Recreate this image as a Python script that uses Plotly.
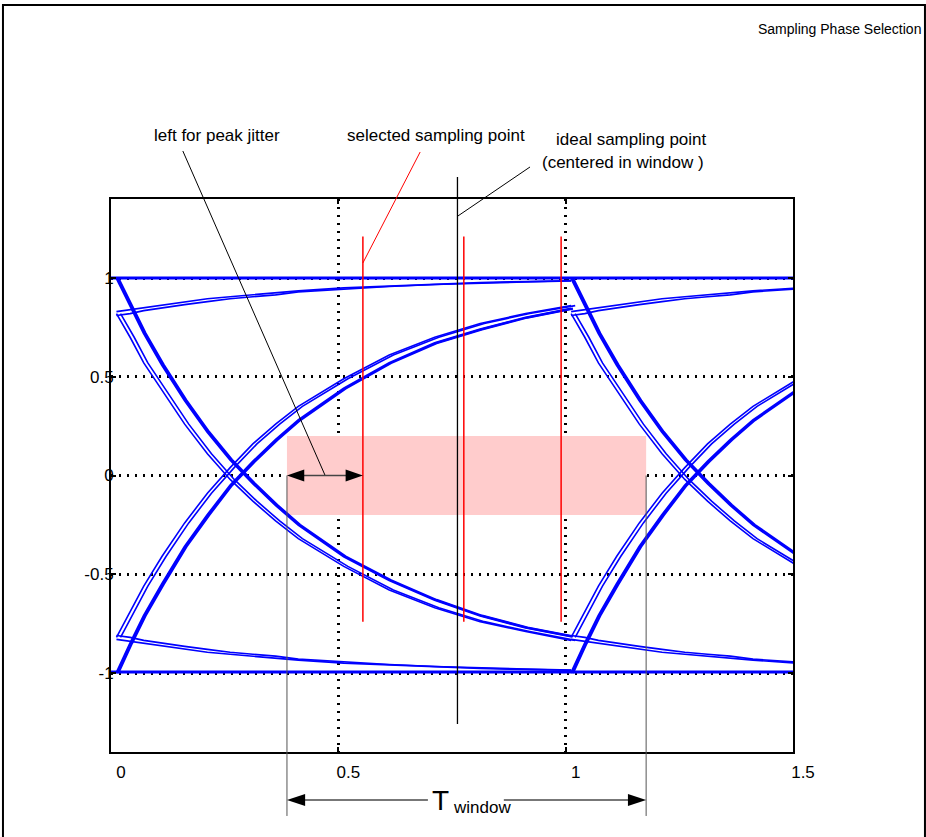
import plotly.graph_objects as go

# ---------------- data ----------------
# time since the start of a bit transition (UI)
t_grid = [0.0, 0.03, 0.06, 0.10, 0.15, 0.20, 0.25, 0.30, 0.35, 0.40, 0.50, 0.60, 0.70, 0.80, 0.90, 1.0]
ui_starts = [0.012, 1.012]          # where each unit interval's transition starts
ui_lengths = [1.0, 0.5]             # visible part of each unit interval

fall_from_high = [1.00, 0.86, 0.72, 0.56, 0.38, 0.22, 0.08, -0.04, -0.15, -0.25, -0.41, -0.53, -0.63, -0.71, -0.77, -0.815]
fall_from_mid = [0.82, 0.70, 0.57, 0.43, 0.26, 0.11, -0.02, -0.13, -0.23, -0.32, -0.46, -0.58, -0.67, -0.74, -0.79, -0.835]
rise_from_low = [-1.00, -0.85, -0.71, -0.55, -0.36, -0.20, -0.05, 0.07, 0.18, 0.28, 0.44, 0.57, 0.67, 0.74, 0.80, 0.845]
rise_from_mid = [-0.82, -0.69, -0.56, -0.41, -0.24, -0.09, 0.04, 0.16, 0.26, 0.35, 0.49, 0.61, 0.70, 0.77, 0.82, 0.86]
settle_high_a = [0.83, 0.84, 0.85, 0.865, 0.88, 0.895, 0.905, 0.915, 0.925, 0.935, 0.95, 0.96, 0.97, 0.977, 0.982, 0.986]
settle_high_b = [0.81, 0.82, 0.835, 0.85, 0.865, 0.88, 0.895, 0.905, 0.915, 0.93, 0.945, 0.957, 0.967, 0.975, 0.98, 0.985]
settle_low_a = [-0.83, -0.84, -0.85, -0.865, -0.88, -0.895, -0.905, -0.915, -0.925, -0.935, -0.95, -0.96, -0.97, -0.977, -0.982, -0.986]
settle_low_b = [-0.81, -0.82, -0.835, -0.85, -0.865, -0.88, -0.895, -0.905, -0.915, -0.93, -0.945, -0.957, -0.967, -0.975, -0.98, -0.985]
flat_x = [0.0, 1.5]
flat_high = [1.0, 1.0]
flat_low = [-0.995, -0.995]

x_ticks = [0, 0.5, 1, 1.5]
x_tick_text = ["0", "0.5", "1", "1.5"]
y_ticks = [-1, -0.5, 0, 0.5, 1]
y_tick_text = ["-1", "-0.5", "0", "0.5", "1"]

# annotation marks (data units)
selected_points = [0.554, 0.776, 0.990]
ideal_point = 0.762
window_start, window_end = 0.387, 1.177
noise_band = 0.2

BLUE = "#0000ff"
FONT = "Liberation Sans, Arial, sans-serif"

fig = go.Figure()

def add_line(x, y, w):
    fig.add_trace(go.Scatter(x=x, y=y, mode="lines", line=dict(color=BLUE, width=w),
                             showlegend=False, hoverinfo="skip"))

add_line(flat_x, flat_high, 3)
add_line(flat_x, flat_low, 3)

for start, length in zip(ui_starts, ui_lengths):
    idx = [i for i, t in enumerate(t_grid) if t <= length + 1e-9]
    xs = [t_grid[i] + start for i in idx]
    def sel(arr):
        return [arr[i] for i in idx]
    for curve in (settle_high_a, settle_high_b, settle_low_a, settle_low_b):
        add_line(xs, sel(curve), 1.7)
    for curve in (fall_from_high, rise_from_low):
        for j in (0.0, 0.004):
            add_line([x + j for x in xs], sel(curve), 2.3)
    for curve in (fall_from_mid, rise_from_mid):
        for j in (0.0, 0.009):
            add_line([x + j for x in xs], sel(curve), 1.6)

def yp(v):
    return (v + 1.4) / 2.8

shapes = []
# pink window rectangle
shapes.append(dict(type="rect", xref="x", yref="y", x0=window_start, x1=window_end,
                   y0=-noise_band, y1=noise_band, fillcolor="#ffcccc", line=dict(width=0), layer="between"))
# red selected sampling points
for xv in selected_points:
    shapes.append(dict(type="line", xref="x", yref="y", x0=xv, x1=xv, y0=-0.74, y1=1.21,
                       line=dict(color="#ff0000", width=1.5)))
# ideal sampling point (extends above plot)
shapes.append(dict(type="line", xref="x", yref="paper", x0=ideal_point, x1=ideal_point,
                   y0=yp(-1.258), y1=1.040, line=dict(color="black", width=1.3)))
# window edges
for xv in (window_start, window_end):
    shapes.append(dict(type="line", xref="x", yref="paper", x0=xv, x1=xv, y0=0.5, y1=-0.1157,
                       line=dict(color="#555555", width=1)))
# leaders
shapes.append(dict(type="line", xref="x", yref="paper", x0=0.158, y0=1.0868, x1=0.471, y1=0.5,
                   line=dict(color="black", width=1)))
shapes.append(dict(type="line", xref="x", yref="paper", x0=0.680, y0=1.085, x1=0.554, y1=yp(1.076),
                   line=dict(color="#ff0000", width=1)))
shapes.append(dict(type="line", xref="x", yref="paper", x0=0.9216, y0=1.0579, x1=0.763, y1=yp(1.314),
                   line=dict(color="black", width=1)))
# jitter double arrow at y=0
shapes.append(dict(type="line", xref="x", yref="y", x0=0.42, x1=0.52, y0=0, y1=0,
                   line=dict(color="#444444", width=1.5)))
shapes.append(dict(type="path", xref="x", yref="y",
                   path=f"M {window_start},0 L {window_start+0.038},0.031 L {window_start+0.038},-0.031 Z",
                   fillcolor="black", line=dict(width=0)))
sp = selected_points[0]
shapes.append(dict(type="path", xref="x", yref="y",
                   path=f"M {sp},0 L {sp-0.038},0.031 L {sp-0.038},-0.031 Z",
                   fillcolor="black", line=dict(width=0)))
# T_window arrow
ya = -0.0868
hh = 0.0109
shapes.append(dict(type="line", xref="x", yref="paper", x0=window_start + 0.03, x1=0.697, y0=ya, y1=ya,
                   line=dict(color="#777777", width=2)))
shapes.append(dict(type="line", xref="x", yref="paper", x0=0.864, x1=window_end - 0.03, y0=ya, y1=ya,
                   line=dict(color="#777777", width=2)))
shapes.append(dict(type="path", xref="x", yref="paper",
                   path=f"M {window_start},{ya} L {window_start+0.04},{ya+hh} L {window_start+0.04},{ya-hh} Z",
                   fillcolor="black", line=dict(width=0)))
shapes.append(dict(type="path", xref="x", yref="paper",
                   path=f"M {window_end},{ya} L {window_end-0.04},{ya+hh} L {window_end-0.04},{ya-hh} Z",
                   fillcolor="black", line=dict(width=0)))
# outer frame
shapes.append(dict(type="rect", xref="paper", yref="paper", x0=-0.1584, x1=1.1935, y0=-0.25, y1=1.3508,
                   line=dict(color="black", width=2), fillcolor="rgba(0,0,0,0)"))

def ann(text, x, y, size, xanchor="center", yanchor="middle"):
    return dict(text=text, x=x, y=y, xref="paper", yref="paper", showarrow=False,
                font=dict(family=FONT, size=size, color="black"), xanchor=xanchor, yanchor=yanchor)

annotations = [
    ann("Sampling Phase Selection", 1.1906, 1.3074, 14, xanchor="right"),
    ann("left for peak jitter", 0.1554, 1.1157, 17),
    ann("selected sampling point", 0.4765, 1.1157, 17),
    ann("ideal sampling point", 0.7625, 1.1067, 17),
    ann("(centered in window )", 0.7507, 1.0669, 17),
    ann("T", 0.4832, -0.0868, 28),
    ann("window", 0.544, -0.0995, 17),
]

fig.update_layout(
    width=926, height=837,
    margin=dict(l=111, r=133, t=199, b=85),
    paper_bgcolor="white", plot_bgcolor="white",
    shapes=shapes, annotations=annotations,
    font=dict(family=FONT, size=17, color="black"),
    xaxis=dict(range=[0, 1.5], tickvals=x_ticks, ticktext=x_tick_text,
               showgrid=True, gridcolor="black", gridwidth=2.5, griddash="2px,6px",
               showline=True, linecolor="black", linewidth=2, mirror="ticks",
               ticks="inside", ticklen=5, tickcolor="black", tickwidth=1.5,
               zeroline=False, ticklabelshift=10, ticklabelstandoff=4,
               tickfont=dict(family=FONT, size=17, color="black")),
    yaxis=dict(range=[-1.4, 1.4], tickvals=y_ticks, ticktext=y_tick_text,
               showgrid=True, gridcolor="black", gridwidth=2.5, griddash="2px,6px",
               showline=True, linecolor="black", linewidth=2, mirror="ticks",
               ticks="inside", ticklen=5, tickcolor="black", tickwidth=1.5,
               zeroline=False, ticklabelstandoff=-8,
               tickfont=dict(family=FONT, size=17, color="black")),
)

fig.write_html("out.html", config={"displayModeBar": False},
               post_script="document.body.style.margin='0';")
